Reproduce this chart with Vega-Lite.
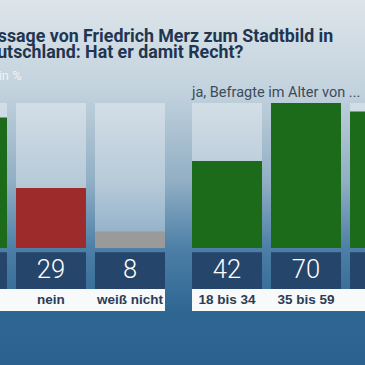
{
  "$schema": "https://vega.github.io/schema/vega-lite/v6.json",
  "width": 365,
  "height": 365,
  "autosize": {"type": "none"},
  "padding": 0,
  "background": "#2d6592",
  "config": {
    "view": {
      "stroke": null,
      "fill": {
        "gradient": "linear",
        "x1": 0, "y1": 0, "x2": 0, "y2": 1,
        "stops": [
          {"offset": 0, "color": "#dde5ea"},
          {"offset": 0.25, "color": "#c2d2dd"},
          {"offset": 0.5, "color": "#90aec4"},
          {"offset": 0.68, "color": "#4d7fa7"},
          {"offset": 0.85, "color": "#2f6793"},
          {"offset": 1, "color": "#2b618e"}
        ]
      }
    },
    "font": "Roboto",
    "text": {"font": "Roboto"}
  },
  "data": {
    "values": [
      {"gruppe": "gesamt", "reihenfolge": 1, "kategorie": "ja", "antwort": "ja", "wert": 63},
      {"gruppe": "gesamt", "reihenfolge": 2, "kategorie": "nein", "antwort": "nein", "wert": 29},
      {"gruppe": "gesamt", "reihenfolge": 3, "kategorie": "weiß nicht", "antwort": "weiß nicht", "wert": 8},
      {"gruppe": "alter", "reihenfolge": 1, "kategorie": "18 bis 34", "antwort": "ja", "wert": 42},
      {"gruppe": "alter", "reihenfolge": 2, "kategorie": "35 bis 59", "antwort": "ja", "wert": 70},
      {"gruppe": "alter", "reihenfolge": 3, "kategorie": "ab 60", "antwort": "ja", "wert": 66}
    ]
  },
  "encoding": {
    "x": {
      "field": "gruppe", "type": "nominal",
      "scale": {"domain": ["gesamt", "alter"], "range": [-63, 420], "paddingInner": 0.106, "paddingOuter": 0},
      "axis": null
    }
  },
  "layer": [
    {
      "mark": {"type": "bar", "fill": "#ffffff", "opacity": 0.35},
      "encoding": {
        "xOffset": {"field": "reihenfolge", "type": "ordinal", "scale": {"domain": [1, 2, 3], "paddingInner": 0.114, "paddingOuter": 0}},
        "y": {"datum": 70, "type": "quantitative", "scale": {"domain": [-56.5, 119.8], "nice": false, "zero": false}, "axis": null},
        "y2": {"datum": 0}
      }
    },
    {
      "mark": {"type": "bar"},
      "encoding": {
        "xOffset": {"field": "reihenfolge", "type": "ordinal"},
        "y": {"field": "wert", "type": "quantitative"},
        "y2": {"datum": 0},
        "color": {"field": "antwort", "type": "nominal", "scale": {"domain": ["ja", "nein", "weiß nicht"], "range": ["#1b6b1b", "#9e2b2b", "#9a9a9a"]}, "legend": null}
      }
    },
    {
      "mark": {"type": "bar", "fill": "#25466a"},
      "encoding": {
        "xOffset": {"field": "reihenfolge", "type": "ordinal"},
        "y": {"datum": -2, "type": "quantitative"},
        "y2": {"datum": -19.8}
      }
    },
    {
      "mark": {"type": "bar", "fill": "#f7f9fa"},
      "encoding": {
        "y": {"datum": -19.8, "type": "quantitative"},
        "y2": {"datum": -30.4}
      }
    },
    {
      "mark": {"type": "text", "color": "#ffffff", "fontSize": 25.5, "fontWeight": 300, "baseline": "middle"},
      "encoding": {
        "xOffset": {"field": "reihenfolge", "type": "ordinal"},
        "y": {"datum": -10.8, "type": "quantitative"},
        "text": {"field": "wert", "type": "quantitative"}
      }
    },
    {
      "mark": {"type": "text", "color": "#2b3d55", "fontSize": 13.5, "fontWeight": "bold", "font": "Liberation Sans", "baseline": "middle"},
      "encoding": {
        "xOffset": {"field": "reihenfolge", "type": "ordinal"},
        "y": {"datum": -25.1, "type": "quantitative"},
        "text": {"field": "kategorie", "type": "nominal"}
      }
    },
    {
      "data": {"values": [{"gruppe": "gesamt", "zeile": "Angaben in %"}]},
      "mark": {"type": "text", "color": "#eef3f6", "fontSize": 13, "align": "left", "baseline": "alphabetic", "dx": 7},
      "encoding": {
        "x": {"field": "gruppe", "type": "nominal", "bandPosition": 0},
        "y": {"datum": 81, "type": "quantitative"},
        "text": {"field": "zeile", "type": "nominal"}
      }
    },
    {
      "data": {"values": [{"gruppe": "alter", "zeile": "ja, Befragte im Alter von ..."}]},
      "mark": {"type": "text", "color": "#3d4b5a", "fontSize": 14.5, "align": "left", "baseline": "alphabetic"},
      "encoding": {
        "x": {"field": "gruppe", "type": "nominal", "bandPosition": 0},
        "y": {"datum": 73, "type": "quantitative"},
        "text": {"field": "zeile", "type": "nominal"}
      }
    },
    {
      "data": {"values": [{"gruppe": "gesamt", "zeile": "Aussage von Friedrich Merz zum Stadtbild in\nDeutschland: Hat er damit Recht?"}]},
      "mark": {"type": "text", "color": "#1f3550", "fontSize": 17.8, "fontWeight": "bold", "align": "left", "baseline": "alphabetic", "lineBreak": "\n", "lineHeight": 15.5, "dx": 39},
      "encoding": {
        "x": {"field": "gruppe", "type": "nominal", "bandPosition": 0},
        "y": {"datum": 99.5, "type": "quantitative"},
        "text": {"field": "zeile", "type": "nominal"}
      }
    }
  ]
}
